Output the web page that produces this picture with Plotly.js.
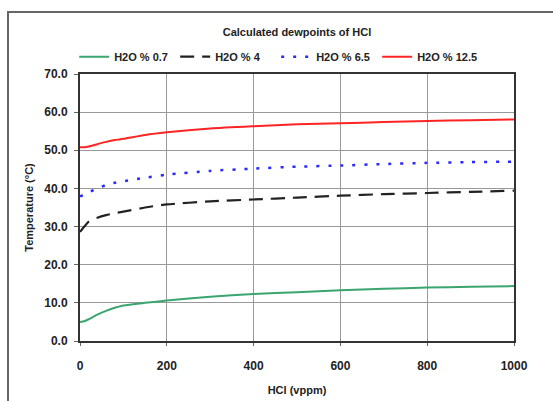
<!DOCTYPE html>
<html><head><meta charset="utf-8">
<script src="https://cdn.plot.ly/plotly-3.0.1.min.js"></script>
<style>
html,body{margin:0;padding:0;background:#fff;overflow:hidden;}
#wrap{position:relative;width:553px;height:401px;}
#chart{position:absolute;left:0;top:0;width:553px;height:401px;}
#frame{position:absolute;left:7px;top:11px;width:600px;height:450px;border-left:2px solid #666;border-top:2px solid #666;pointer-events:none;}
</style></head>
<body><div id="wrap"><div id="chart"></div><div id="frame"></div></div>
<script>
const hcl = [0, 10, 20, 40, 60, 80, 100, 150, 200, 300, 400, 500, 600, 700, 800, 900, 1000];
const h2o07 = [5.0, 5.2, 5.7, 6.9, 7.9, 8.7, 9.3, 10.0, 10.6, 11.6, 12.3, 12.8, 13.3, 13.7, 14.0, 14.2, 14.4];
const h2o4 = [28.6, 30.0, 31.3, 32.3, 33.0, 33.5, 33.9, 35.0, 35.8, 36.6, 37.1, 37.6, 38.1, 38.5, 38.8, 39.1, 39.4];
const h2o65 = [37.9, 38.4, 39.0, 40.0, 40.9, 41.5, 41.9, 42.8, 43.6, 44.6, 45.2, 45.7, 46.0, 46.4, 46.7, 46.9, 47.0];
const h2o125 = [50.8, 50.8, 51.0, 51.6, 52.2, 52.7, 53.0, 54.0, 54.7, 55.7, 56.3, 56.8, 57.1, 57.4, 57.7, 57.9, 58.1];
const names = ["H2O % 0.7", "H2O % 4", "H2O % 6.5", "H2O % 12.5"];
const xTicks = [0, 200, 400, 600, 800, 1000];
const yTicks = [0, 10, 20, 30, 40, 50, 60, 70];

const F = 'Liberation Sans, Arial, sans-serif';
const traces = [
  {x: hcl, y: h2o07, name: names[0], mode: 'lines', line: {color: '#3aa56e', width: 2, shape: 'spline', smoothing: 0.6}},
  {x: hcl, y: h2o4, name: names[1], mode: 'lines', line: {color: '#222222', width: 2.2, dash: '14px,8px', shape: 'spline', smoothing: 0.6}},
  {x: hcl, y: h2o65, name: names[2], mode: 'lines', line: {color: '#2a2aff', width: 2.5, dash: '3px,9px', shape: 'spline', smoothing: 0.6}},
  {x: hcl, y: h2o125, name: names[3], mode: 'lines', line: {color: '#ff2424', width: 2, shape: 'spline', smoothing: 0.6}}
];
const layout = {
  width: 553, height: 401,
  margin: {l: 80, r: 39, t: 74, b: 60},
  paper_bgcolor: '#fff', plot_bgcolor: '#fff',
  font: {family: F, size: 11, color: '#222'},
  title: {text: '<b>Calculated dewpoints of HCl</b>', x: 0.537, xanchor: 'center', y: 0.92, yanchor: 'middle', font: {family: F, size: 11, color: '#222'}},
  showlegend: true,
  legend: {orientation: 'h', x: 0.452, xanchor: 'center', y: 1.065, yanchor: 'middle', font: {family: F, size: 11, color: '#222', weight: 'bold'}, bgcolor: 'rgba(0,0,0,0)', entrywidth: 56, traceorder: 'normal'},
  xaxis: {range: [0, 1000], tickvals: xTicks, ticktext: xTicks.map(String), showgrid: true, gridcolor: '#999', gridwidth: 1,
    showline: true, linecolor: '#333', linewidth: 2, mirror: true, ticks: 'outside', ticklen: 3, tickcolor: '#666', zeroline: false,
    ticklabelstandoff: 10,
    tickfont: {family: F, size: 12, color: '#222', weight: 'bold'},
    title: {text: '<b>HCl (vppm)</b>', standoff: 14, font: {family: F, size: 11, color: '#222'}}},
  yaxis: {range: [0, 70], tickvals: yTicks, ticktext: yTicks.map(v => v.toFixed(1)), showgrid: true, gridcolor: '#999', gridwidth: 1,
    showline: true, linecolor: '#333', linewidth: 2, mirror: true, ticks: 'outside', ticklen: 4, tickcolor: '#666', zeroline: false,
    ticklabelstandoff: 4,
    tickfont: {family: F, size: 12, color: '#222', weight: 'bold'},
    title: {text: '<b>Temperature (°C)</b>', standoff: 8, font: {family: F, size: 11, color: '#222'}}}
};
Plotly.newPlot('chart', traces, layout, {displayModeBar: false, staticPlot: true});
</script></body></html>
